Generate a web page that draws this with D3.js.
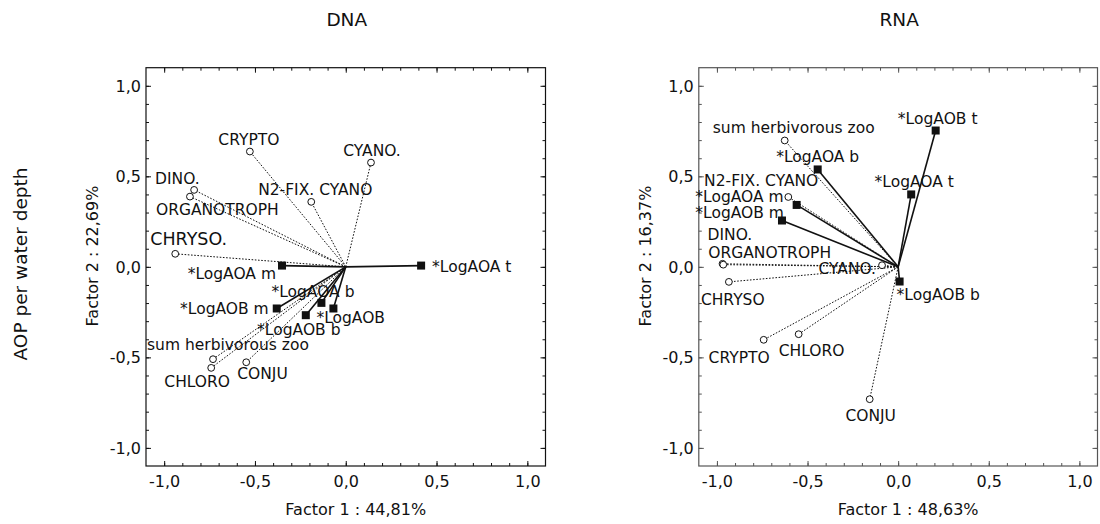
<!DOCTYPE html>
<html>
<head>
<meta charset="utf-8">
<script src="https://cdn.jsdelivr.net/npm/d3@7"></script>
<style>
  body { margin: 0; background: #fff; }
  svg { display: block; font-family: "DejaVu Sans", Verdana, sans-serif; }
</style>
</head>
<body>
<svg id="chart" width="1100" height="524"></svg>
<script>
// ---------- DATA ----------
const tickValuesMajor = [-1.0, -0.5, 0.0, 0.5, 1.0];
const tickValuesMinor = d3.range(-10, 11).map(i => i / 10);

// DNA panel
const dnaNames = ["CRYPTO", "CYANO.", "DINO.", "ORGANOTROPH", "N2-FIX. CYANO", "CHRYSO.",
  "*LogAOA m", "*LogAOA t", "*LogAOA b", "*LogAOB", "*LogAOB b", "*LogAOB m",
  "sum herbivorous zoo", "CHLORO", "CONJU"];
const dnaF1 = [-0.528, 0.139, -0.835, -0.858, -0.19, -0.939,
  -0.351, 0.415, -0.134, -0.068, -0.22, -0.38,
  -0.731, -0.741, -0.548];
const dnaF2 = [0.637, 0.576, 0.425, 0.388, 0.359, 0.072,
  0.007, 0.007, -0.199, -0.230, -0.267, -0.230,
  -0.510, -0.558, -0.527];
const dnaActive = [false, false, false, false, false, false,
  true, true, true, true, true, true,
  false, false, false];

// RNA panel
const rnaNames = ["*LogAOB t", "sum herbivorous zoo", "*LogAOA b", "*LogAOA t", "N2-FIX. CYANO",
  "*LogAOA m", "*LogAOB m", "DINO.", "ORGANOTROPH", "CHRYSO", "CYANO.", "*LogAOB b",
  "CRYPTO", "CHLORO", "CONJU"];
const rnaF1 = [0.207, -0.626, -0.444, 0.072, -0.606,
  -0.560, -0.641, -0.969, -0.965, -0.934, -0.089, 0.008,
  -0.742, -0.549, -0.157];
const rnaF2 = [0.753, 0.698, 0.538, 0.400, 0.386,
  0.342, 0.256, 0.017, 0.012, -0.083, 0.009, -0.081,
  -0.403, -0.372, -0.731];
const rnaActive = [true, false, true, true, false,
  true, true, false, false, false, false, true,
  false, false, false];

const titles = ["DNA", "RNA"];
const xTitles = ["Factor 1 : 44,81%", "Factor 1 : 48,63%"];
const yTitles = ["Factor 2 : 22,69%", "Factor 2 : 16,37%"];
const rowTitle = "AOP per water depth";

// ---------- LAYOUT (label placement offsets in px: [dx, dy, anchor]) ----------
const dnaLabelPos = {
  "CRYPTO": [-1, -7, "middle"],
  "CYANO.": [1, -7, "middle"],
  "DINO.": [-39, -6, "start"],
  "ORGANOTROPH": [-34, 18, "start"],
  "N2-FIX. CYANO": [4, -7, "middle"],
  "CHRYSO.": [-25, -9, "start"],
  "*LogAOA m": [-6, 13, "end"],
  "*LogAOA t": [11, 6, "start"],
  "*LogAOA b": [-50, -6, "start"],
  "*LogAOB": [-17, 15, "start"],
  "*LogAOB b": [-7, 20, "middle"],
  "*LogAOB m": [-8, 6, "end"],
  "sum herbivorous zoo": [-66, -9, "start"],
  "CHLORO": [-14, 19, "middle"],
  "CONJU": [-9, 17, "start"]
};
const rnaLabelPos = {
  "*LogAOB t": [2, -7, "middle"],
  "sum herbivorous zoo": [9, -7, "middle"],
  "*LogAOA b": [0, -7, "middle"],
  "*LogAOA t": [3, -7, "middle"],
  "N2-FIX. CYANO": [30, -11, "end"],
  "*LogAOA m": [-13, -3, "end"],
  "*LogAOB m": [2, -3, "end"],
  "DINO.": [-15, -24, "start"],
  "ORGANOTROPH": [-15, -7, "start"],
  "CHRYSO": [-28, 23, "start"],
  "CYANO.": [-6, 9, "end"],
  "*LogAOB b": [-3, 18, "start"],
  "CRYPTO": [6, 23, "end"],
  "CHLORO": [-20, 22, "start"],
  "CONJU": [1, 22, "middle"]
};

const panels = [
  { x0: 146, x1: 545.5, names: dnaNames, f1: dnaF1, f2: dnaF2, active: dnaActive, pos: dnaLabelPos, frame: "#111", big: "CHRYSO." },
  { x0: 698.8, x1: 1097.5, names: rnaNames, f1: rnaF1, f2: rnaF2, active: rnaActive, pos: rnaLabelPos, frame: "#555", big: null }
];
const y0 = 67.7, y1 = 466;

const locale = d3.formatLocale({ decimal: ",", thousands: ".", grouping: [3], currency: ["", ""], minus: "-" });
const fmt = locale.format(".1f");

const svg = d3.select("#chart");

// Row title
svg.append("text")
  .attr("transform", `translate(27,264) rotate(-90)`)
  .attr("text-anchor", "middle")
  .attr("font-size", 18.5)
  .attr("fill", "#111")
  .text(rowTitle);

panels.forEach((p, pi) => {
  const x = d3.scaleLinear().domain([-1.1, 1.1]).range([p.x0, p.x1]);
  const y = d3.scaleLinear().domain([-1.1, 1.1]).range([y1, y0]);
  const g = svg.append("g");
  const cx = (p.x0 + p.x1) / 2;

  // Title
  g.append("text").attr("x", x(0) + 1).attr("y", 26).attr("text-anchor", "middle")
    .attr("font-size", 18.5).attr("fill", "#111").text(titles[pi]);

  // Axes: minor ticks (inward)
  const mkAxis = (gen, tr, size, vals, labels) => {
    const a = gen.tickValues(vals).tickSize(size).tickFormat(labels ? fmt : "");
    const ag = g.append("g").attr("transform", tr).call(a);
    ag.select(".domain").remove();
    ag.selectAll(".tick line").attr("stroke", p.frame).attr("stroke-width", 1);
    return ag;
  };
  [[d3.axisBottom(x), `translate(0,${y1})`], [d3.axisTop(x), `translate(0,${y0})`],
   [d3.axisLeft(y), `translate(${p.x0},0)`], [d3.axisRight(y), `translate(${p.x1},0)`]].forEach(([gen, tr]) => {
    mkAxis(gen, tr, -3, tickValuesMinor, false);
  });
  const bx = mkAxis(d3.axisBottom(x), `translate(0,${y1})`, -5, tickValuesMajor, true);
  bx.selectAll("text").attr("y", 21).attr("dy", 0).attr("font-size", 16)
    .attr("font-family", "DejaVu Sans, sans-serif").attr("fill", "#111");
  mkAxis(d3.axisTop(x), `translate(0,${y0})`, -5, tickValuesMajor, false);
  const ly = mkAxis(d3.axisLeft(y), `translate(${p.x0},0)`, -5, tickValuesMajor, true);
  ly.selectAll("text").attr("x", -5).attr("dy", "0.35em").attr("font-size", 16)
    .attr("font-family", "DejaVu Sans, sans-serif").attr("fill", "#111");
  mkAxis(d3.axisRight(y), `translate(${p.x1},0)`, -5, tickValuesMajor, false);

  // Frame
  g.append("rect").attr("x", p.x0).attr("y", y0).attr("width", p.x1 - p.x0).attr("height", y1 - y0)
    .attr("fill", "none").attr("stroke", p.frame).attr("stroke-width", 1.2);

  // Axis titles
  g.append("text").attr("x", cx + 10).attr("y", 515).attr("text-anchor", "middle")
    .attr("font-size", 16).attr("fill", "#111").text(xTitles[pi]);
  g.append("text").attr("transform", `translate(${p.x0 - 48},256) rotate(-90)`)
    .attr("text-anchor", "middle").attr("font-size", 16).attr("fill", "#111").text(yTitles[pi]);

  const data = p.names.map((n, i) => ({ name: n, a: p.f1[i], b: p.f2[i], active: p.active[i] }));

  // Vectors
  g.selectAll("line.vec").data(data).enter().append("line")
    .attr("x1", x(0)).attr("y1", y(0))
    .attr("x2", d => x(d.a)).attr("y2", d => y(d.b))
    .attr("stroke", "#111")
    .attr("stroke-width", d => d.active ? 1.6 : 1)
    .attr("stroke-dasharray", d => d.active ? null : "1.6,1.6");

  // Markers
  data.filter(d => !d.active).forEach(d => {
    g.append("circle").attr("cx", x(d.a)).attr("cy", y(d.b)).attr("r", 3.4)
      .attr("fill", "#fff").attr("stroke", "#111").attr("stroke-width", 1);
  });
  data.filter(d => d.active).forEach(d => {
    g.append("rect").attr("x", x(d.a) - 4).attr("y", y(d.b) - 4).attr("width", 8).attr("height", 8)
      .attr("fill", "#111");
  });

  // Labels
  data.forEach(d => {
    const o = p.pos[d.name];
    g.append("text").attr("x", x(d.a) + o[0]).attr("y", y(d.b) + o[1])
      .attr("text-anchor", o[2])
      .attr("font-size", d.name === p.big ? 17.5 : 15.5)
      .attr("fill", "#111")
      .text(d.name);
  });
});
</script>
</body>
</html>
